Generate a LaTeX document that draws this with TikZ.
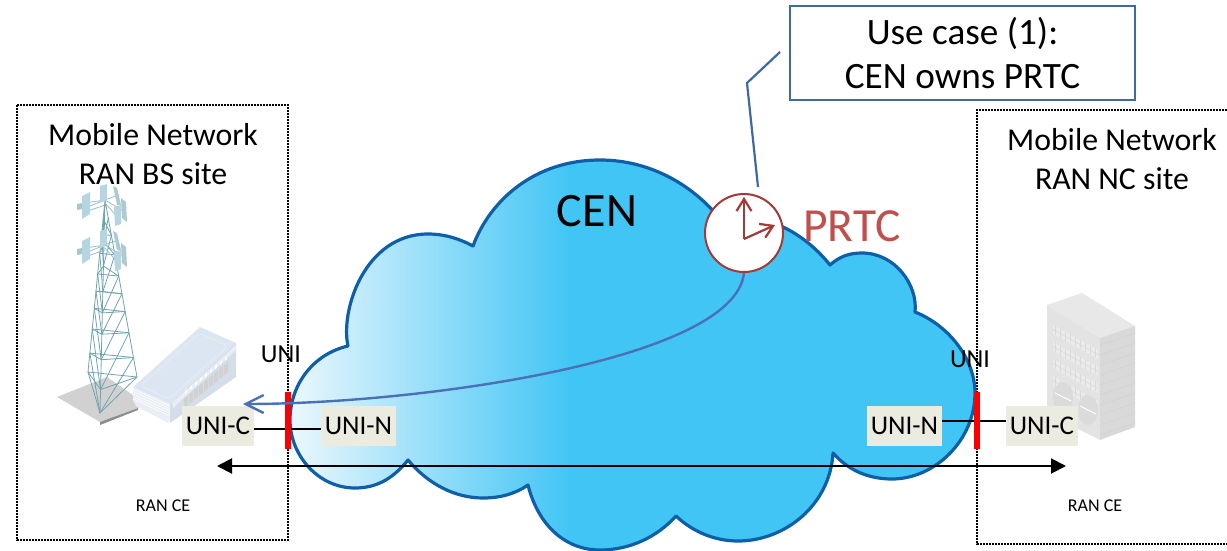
\documentclass[tikz,border=0pt]{standalone}
\usepackage{fontspec}
\setmainfont{Carlito}
\usetikzlibrary{arrows.meta,calc}
\definecolor{cloudfull}{HTML}{41C5F5}
\definecolor{cloudpale}{HTML}{ECF7FD}
\definecolor{cloudedge}{HTML}{0F5FA8}
\definecolor{tagfill}{HTML}{ECEBE0}
\definecolor{calloutblue}{HTML}{3E6A9E}
\definecolor{clockred}{HTML}{A23A3A}
\definecolor{prtcred}{HTML}{C0504D}
\definecolor{curveblue}{HTML}{4A70B5}
\definecolor{steel}{HTML}{6FA3AF}
\definecolor{panel}{HTML}{B5D6E0}
\definecolor{devtop}{HTML}{DCE5F2}
\definecolor{devfront}{HTML}{E9EDF4}
\definecolor{devright}{HTML}{D5DDE9}
\pgfdeclarehorizontalshading{cloudshade}{100bp}{
  color(0bp)=(cloudpale); color(25bp)=(cloudpale);
  color(45.5bp)=(cloudfull); color(100bp)=(cloudfull)}
\tikzset{
  sitebox/.style={draw=black,line width=1.6pt,dash pattern=on 1.6pt off 1.4pt},
  tag/.style={fill=tagfill,minimum width=#1,minimum height=40pt,inner sep=0pt,font=\fontsize{27}{30}\selectfont},
  sitetitle/.style={align=center,inner sep=0pt,font=\fontsize{31.8}{39}\selectfont},
  smalltext/.style={inner sep=0pt,font=\fontsize{18}{20}\selectfont},
  unitext/.style={inner sep=0pt,font=\fontsize{26}{30}\selectfont},
  redbar/.style={fill=red,draw=none},
  towerline/.style={draw=steel,line width=0.8pt},
  clockhand/.style={draw=clockred,line width=2.2pt,-{Straight Barb[length=12pt,width=15pt]}},
}
\begin{document}
\begin{tikzpicture}[x=1pt,y=-1pt]
\useasboundingbox (0,0) rectangle (1227,551);
% site boxes
\draw[sitebox] (17,105) rectangle (288,540);
\draw[sitebox] (1227,110) -- (977,110) -- (977,544) -- (1227,544);
% tower plate
\fill[black!18] (57,397) -- (107,377) -- (140,400) -- (140,407) -- (100,422) -- cycle;
\fill[black!45] (100,422) -- (138,408) -- (138,410) -- (100,425) -- cycle;
% tower
\coordinate (ap) at (105,200);
\coordinate (bl) at (88,372);
\coordinate (bc) at (100,413);
\coordinate (br) at (137,377);
\draw[towerline] (ap) -- (bl) (ap) -- (bc) (ap) -- (br);
\draw[towerline] (bl) -- (bc) -- (br);
\foreach \a/\b in {0.10/0.20,0.20/0.31,0.31/0.43,0.43/0.53,0.53/0.63,0.63/0.75,0.75/0.89,0.89/1}{
  \draw[towerline] ($(ap)!\a!(bl)$) -- ($(ap)!\b!(bc)$) ($(ap)!\a!(bc)$) -- ($(ap)!\b!(bl)$);
  \draw[towerline] ($(ap)!\a!(br)$) -- ($(ap)!\b!(bc)$) ($(ap)!\a!(bc)$) -- ($(ap)!\b!(br)$);
  \draw[towerline] ($(ap)!\b!(bl)$) -- ($(ap)!\b!(br)$);
}
% antennas
\foreach \dy in {0,45}{
  \begin{scope}[yshift=-\dy pt]
  \draw[steel!70,line width=0.8pt] (105,200) -- (85,203) (105,200) -- (85,208) (105,205) -- (85,212)
     (105,200) -- (118,195) (105,200) -- (125,212) (105,203) -- (120,220) (105,200) -- (103,192);
  \fill[panel] (82,196) -- (90,192) -- (90,214) -- (82,219) -- cycle;
  \fill[panel!80!gray] (77,204) -- (82,203) -- (82,209) -- (77,210) -- cycle;
  \fill[panel] (100,186) -- (107,184) -- (107,200) -- (100,203) -- cycle;
  \fill[panel] (114,207) -- (121,205) -- (121,224) -- (115,226) -- cycle;
  \fill[panel!85!gray] (113,186) -- (117,188) -- (121,205) -- (117,205) -- cycle;
  \fill[panel!85!gray] (121,198) -- (126,202) -- (127,222) -- (122,218) -- cycle;
  \end{scope}
}
% router
\fill[devtop] (133,387) -- (200,327) -- (236,343) -- (170,404) -- cycle;
\fill[devfront] (133,387) -- (170,404) -- (170,420) -- (168,423) -- (136,406) -- (133,400) -- cycle;
\foreach \k in {0,1,2,3,4}{
  \draw[white,line width=0.6pt] (133,{389+\k*2.5}) -- (170,{406+\k*2.5});
}
\fill[devright] (170,404) -- (236,343) -- (236,377) -- (170,423) -- cycle;
\fill[devfront] (172,403) -- (236,345) -- (236,350) -- (173,408) -- cycle;
\draw[devfront,line width=.8pt,rounded corners=4pt] (141,386) -- (199,333) -- (228,346) -- (169,399) -- cycle;
\foreach \i in {0,...,8}{
  \fill[black!18] ({184+\i*5},{398-\i*4.1}) -- ({188+\i*5},{395-\i*4.1}) -- ({188+\i*5},{405-\i*4.1}) -- ({184+\i*5},{408-\i*4.1}) -- cycle;
  \fill[white] ({185+\i*5},{391-\i*4.1}) -- ({187+\i*5},{389-\i*4.1}) -- ({187+\i*5},{392-\i*4.1}) -- ({185+\i*5},{394-\i*4.1}) -- cycle;
}
% rack
\fill[black!9] (1047,305) -- (1082,293) -- (1135,326) -- (1100,338) -- cycle;
\fill[black!11] (1047,305) -- (1100,338) -- (1100,440) -- (1047,413) -- cycle;
\fill[black!15] (1100,338) -- (1135,326) -- (1135,427) -- (1100,440) -- cycle;
\foreach \r in {0,1,2,3}{
  \fill[white!92!black] (1053,{325+\r*17}) -- (1098,{350+\r*17}) -- (1098,{359+\r*17}) -- (1053,{334+\r*17}) -- cycle;
  \foreach \c in {0,...,8}{
    \draw[black!15,line width=0.6pt] ({1055+\c*5},{326+\r*17+\c*2.8}) -- ({1055+\c*5},{335+\r*17+\c*2.8});
  }
  \draw[black!15,line width=0.6pt] (1053,{329.5+\r*17}) -- (1098,{354.5+\r*17});
}
\foreach \cx/\cy in {1063/397,1088/410}{
  \fill[black!14] (\cx,\cy) ellipse (10pt and 15pt);
  \draw[white,line width=1pt] ({\cx-8},{\cy-4}) -- ({\cx+8},{\cy+4});
}
\foreach \k in {0,...,9}{
  \draw[black!18,line width=0.5pt] (1100,{345+\k*10}) -- (1135,{333+\k*10});
}
% cloud
\path[draw=cloudedge,line width=3.2pt,line join=round,shading=cloudshade]
  (408,460) .. controls (392,480) and (375,488) .. (355,488)
  .. controls (318,488) and (290,455) .. (290,420)
  .. controls (290,385) and (313,354) .. (348,346)
  .. controls (340,310) and (365,234) .. (428,234)
  .. controls (445,234) and (460,239) .. (473,246)
  .. controls (490,200) and (535,160) .. (600,160)
  .. controls (650,160) and (695,185) .. (725,225)
  -- (735,232)
  .. controls (745,218) and (765,218) .. (783,227)
  .. controls (802,236) and (818,250) .. (830,265)
  .. controls (840,256) and (850,253) .. (862,253)
  .. controls (895,253) and (918,285) .. (915,312)
  .. controls (950,326) and (975,360) .. (975,393)
  .. controls (975,440) and (935,479) .. (892,479)
  .. controls (868,479) and (848,470) .. (833,453)
  .. controls (830,505) and (785,541) .. (738,541)
  .. controls (715,541) and (693,532) .. (676,516)
  .. controls (657,537) and (630,550) .. (600,550)
  .. controls (565,550) and (538,525) .. (528,485)
  .. controls (515,494) and (500,498) .. (483,498)
  .. controls (455,498) and (428,484) .. (408,460) -- cycle;
% titles
\node[sitetitle] (bstitle) at (153,154) {Mobile Network\\RAN BS site};
\node[sitetitle] (nctitle) at (1112,159) {Mobile Network\\RAN NC site};
\node[inner sep=0pt,font=\fontsize{48}{52}\selectfont] (cen) at (597,211) {CEN};
\node[inner sep=0pt,text=prtcred,font=\fontsize{47.5}{52}\selectfont] (prtc) at (852,226) {PRTC};
% callout
\node[draw=calloutblue,line width=2.8pt,fill=white,minimum width=345pt,minimum height=94pt,inner sep=0pt,align=center,font=\fontsize{37.2}{44}\selectfont] (callout) at (962.5,53) {Use case (1):\\CEN owns PRTC};
\coordinate (callbend) at (747,83);
\coordinate (callfoot) at (758,187);
\coordinate (callhead) at (780,52);
\draw[calloutblue,line width=2.2pt] (callhead) -- (callbend) -- (callfoot);
% clock
\node[circle,draw=clockred,line width=2pt,fill=white,minimum size=78pt,inner sep=0pt] (clock) at (744,233) {};
\coordinate (hub) at (744,239);
\coordinate (hup) at (744,197);
\coordinate (hright) at (775,225);
\draw[clockhand] (hub) -- (hup);
\draw[clockhand] (hub) -- (hright);
% tags
\node[tag=72pt] (ucl) at (218,426) {UNI-C};
\node[tag=75pt] (unl) at (358.5,426) {UNI-N};
\node[tag=75pt] (unr) at (904.5,426) {UNI-N};
\node[tag=72pt] (ucr) at (1042,426) {UNI-C};
\draw[black,line width=1.5pt] ([yshift=-3pt]ucl.east) -- ([yshift=-3pt]unl.west);
\draw[black,line width=1.5pt] ([yshift=5pt]unr.east) -- ([yshift=5pt]ucr.west);
% red bars
\node[redbar,minimum width=6.5pt,minimum height=57pt,inner sep=0pt] (barl) at (288,420.5) {};
\node[redbar,minimum width=6.5pt,minimum height=57pt,inner sep=0pt] (barr) at (977,420.5) {};
\node[unitext] (unil) at (281,354) {UNI};
\node[unitext] (unir) at (970,359) {UNI};
% curve
\coordinate (curveend) at (243,404);
\draw[curveblue,line width=2.4pt,-{Straight Barb[length=18pt,width=18pt]}] (clock.south) .. controls (735,360) and (420,404) .. (curveend);
% span arrow
\coordinate (spanl) at (217,466);
\coordinate (spanr) at (1066,466);
\draw[black,line width=2pt,{Triangle[length=15pt,width=15pt]}-{Triangle[length=15pt,width=15pt]}] (spanl) -- (spanr);
\node[smalltext] (cel) at (163,506) {RAN CE};
\node[smalltext] (cer) at (1095,506) {RAN CE};
\end{tikzpicture}
\end{document}
